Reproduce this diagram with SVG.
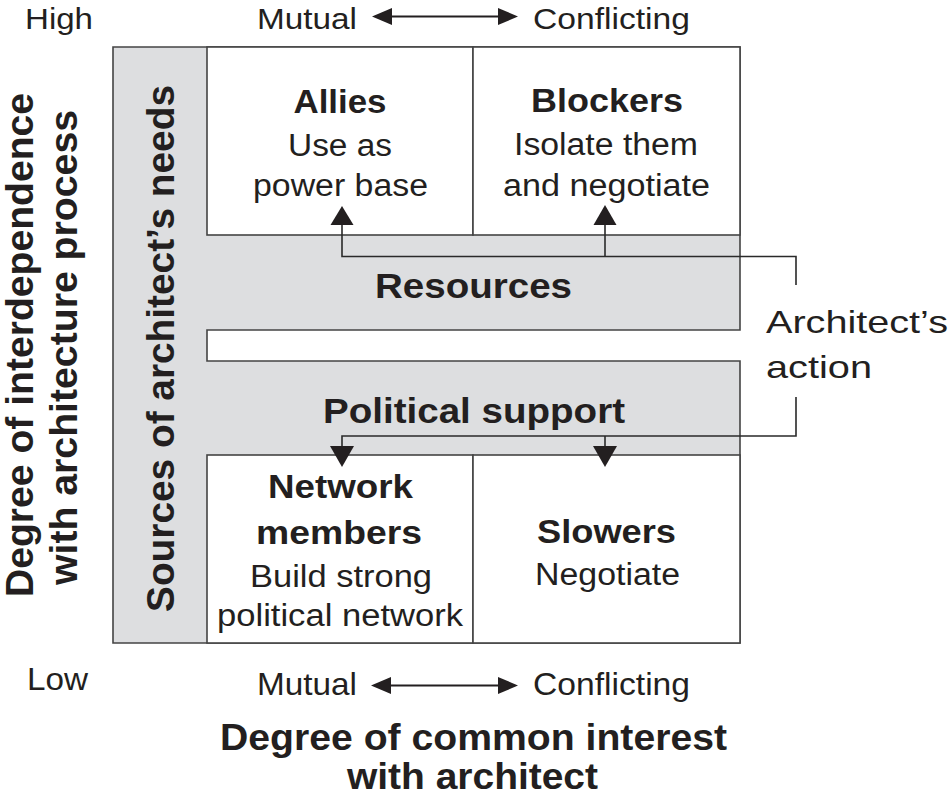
<svg xmlns="http://www.w3.org/2000/svg" width="950" height="799" viewBox="0 0 950 799">
<style>
text{font-family:"Liberation Sans",Arial,sans-serif;fill:#231f20}
.ax{font-size:32px}
.axt{font-size:30px}
.bt{font-size:33px;font-weight:bold;text-anchor:middle}
.rt{font-size:31px;text-anchor:middle}
.band{font-size:35px;font-weight:bold;text-anchor:middle}
.ttl{font-size:36px;font-weight:bold;text-anchor:middle}
.rot{font-size:38px;font-weight:bold;text-anchor:middle}
.box{fill:#fff;stroke:#444;stroke-width:1.6}
.gray{fill:#dddee0;stroke:#444;stroke-width:1.6}
.ln{fill:none;stroke:#2a2a2a;stroke-width:1.6}
.ah{fill:#231f20}
</style>

<g id="axis-top">
<text class="axt" x="25" y="29" textLength="68" lengthAdjust="spacingAndGlyphs">High</text>
<text class="axt" x="257" y="29" textLength="100" lengthAdjust="spacingAndGlyphs">Mutual</text>
<line x1="388" y1="16.5" x2="502" y2="16.5" stroke="#231f20" stroke-width="2"/>
<polygon class="ah" points="372,16.5 392,8 392,25"/>
<polygon class="ah" points="518,16.5 498,8 498,25"/>
<text class="axt" x="533" y="29" textLength="157" lengthAdjust="spacingAndGlyphs">Conflicting</text>
</g>

<g id="axis-bottom">
<text class="ax" x="27" y="690" textLength="61" lengthAdjust="spacingAndGlyphs">Low</text>
<text class="ax" x="257" y="695" textLength="100" lengthAdjust="spacingAndGlyphs">Mutual</text>
<line x1="388" y1="685.5" x2="502" y2="685.5" stroke="#231f20" stroke-width="2"/>
<polygon class="ah" points="371,685.5 391,677 391,694"/>
<polygon class="ah" points="518,685.5 498,677 498,694"/>
<text class="ax" x="533" y="695" textLength="157" lengthAdjust="spacingAndGlyphs">Conflicting</text>
</g>

<g id="title-x">
<text class="ttl" x="473.5" y="750" textLength="507" lengthAdjust="spacingAndGlyphs">Degree of common interest</text>
<text class="ttl" x="472.5" y="789" textLength="251" lengthAdjust="spacingAndGlyphs">with architect</text>
</g>

<g id="title-y">
<text class="rot" transform="translate(33,345) rotate(-90)" textLength="504" lengthAdjust="spacingAndGlyphs">Degree of interdependence</text>
<text class="rot" transform="translate(77,347.5) rotate(-90)" textLength="475" lengthAdjust="spacingAndGlyphs">with architecture process</text>
</g>

<g id="sources">
<path class="gray" d="M113,47 H740 V330 H207 V361 H740 V643 H113 Z"/>
<text class="rot" transform="translate(174,348.5) rotate(-90)" textLength="527" lengthAdjust="spacingAndGlyphs">Sources of architect’s needs</text>
</g>

<g id="resources">
<text class="band" x="473.5" y="298" textLength="197" lengthAdjust="spacingAndGlyphs">Resources</text>
</g>

<g id="political-support">
<text class="band" x="474" y="423" textLength="302" lengthAdjust="spacingAndGlyphs">Political support</text>
</g>

<g id="allies">
<rect class="box" x="207" y="47" width="266" height="188"/>
<text class="bt" x="340" y="113" textLength="93" lengthAdjust="spacingAndGlyphs">Allies</text>
<text class="rt" x="340" y="156" textLength="104" lengthAdjust="spacingAndGlyphs">Use as</text>
<text class="rt" x="340.5" y="196" textLength="175" lengthAdjust="spacingAndGlyphs">power base</text>
</g>

<g id="blockers">
<rect class="box" x="473" y="47" width="267" height="188"/>
<text class="bt" x="607" y="112" textLength="152" lengthAdjust="spacingAndGlyphs">Blockers</text>
<text class="rt" x="606" y="155" textLength="184" lengthAdjust="spacingAndGlyphs">Isolate them</text>
<text class="rt" x="606.5" y="196" textLength="207" lengthAdjust="spacingAndGlyphs">and negotiate</text>
</g>

<g id="network-members">
<rect class="box" x="207" y="455" width="266" height="188"/>
<text class="bt" x="340.5" y="498" textLength="145" lengthAdjust="spacingAndGlyphs">Network</text>
<text class="bt" x="339" y="544" textLength="166" lengthAdjust="spacingAndGlyphs">members</text>
<text class="rt" x="341" y="587" textLength="182" lengthAdjust="spacingAndGlyphs">Build strong</text>
<text class="rt" x="340" y="626" textLength="246" lengthAdjust="spacingAndGlyphs">political network</text>
</g>

<g id="slowers">
<rect class="box" x="473" y="455" width="267" height="188"/>
<text class="bt" x="606.5" y="543" textLength="139" lengthAdjust="spacingAndGlyphs">Slowers</text>
<text class="rt" x="607.5" y="585" textLength="145" lengthAdjust="spacingAndGlyphs">Negotiate</text>
</g>

<g id="architects-action">
<text class="ax" x="766" y="333" textLength="182" lengthAdjust="spacingAndGlyphs">Architect’s</text>
<text class="ax" x="766" y="378" textLength="106" lengthAdjust="spacingAndGlyphs">action</text>
</g>

<g id="connectors">
<path class="ln" d="M796,285 V256.5 H342 V222"/>
<path class="ln" d="M605,256.5 V222"/>
<polygon class="ah" points="342,206 330.5,225 353.5,225"/>
<polygon class="ah" points="605,205 593.5,225 616.5,225"/>
<path class="ln" d="M796,397 V436 H342 V450"/>
<path class="ln" d="M605,436 V450"/>
<polygon class="ah" points="342,467 330,446 354,446"/>
<polygon class="ah" points="605,467 593,446 617,446"/>
</g>
</svg>
